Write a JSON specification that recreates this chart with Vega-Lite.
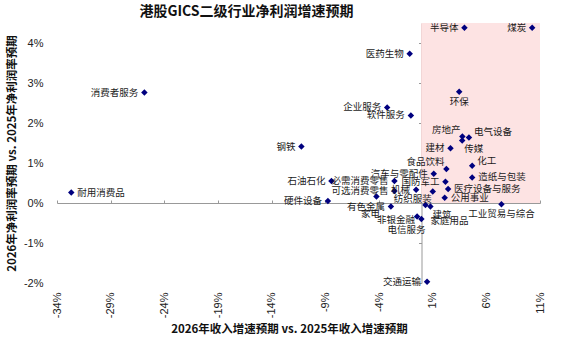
{
  "$schema": "https://vega.github.io/schema/vega-lite/v6.json",
  "autosize": "none",
  "width": 483,
  "height": 260,
  "padding": {"left": 57, "top": 23, "right": 32, "bottom": 61},
  "background": "white",
  "config": {"view": {"stroke": null}, "text": {"font": "Noto Sans CJK SC", "fontSize": 9.5, "color": "#1a1a1a"}},
  "title": {"text": "港股GICS二级行业净利润增速预期", "font": "Noto Sans CJK SC", "fontSize": 14, "fontWeight": "bold", "anchor": "middle", "dx": -52, "offset": 4, "color": "#111"},
  "data": {"values": [
    {"name": "半导体", "x": 3.96, "y": 4.38, "pos": "L"},
    {"name": "煤炭", "x": 10.27, "y": 4.38, "pos": "L"},
    {"name": "医药生物", "x": -1.14, "y": 3.73, "pos": "L"},
    {"name": "环保", "x": 3.47, "y": 2.78, "pos": "B"},
    {"name": "企业服务", "x": -3.24, "y": 2.39, "pos": "L"},
    {"name": "软件服务", "x": -1.03, "y": 2.19, "pos": "L"},
    {"name": "消费者服务", "x": -25.86, "y": 2.76, "pos": "L"},
    {"name": "钢铁", "x": -11.23, "y": 1.41, "pos": "L"},
    {"name": "耐用消费品", "x": -32.67, "y": 0.26, "pos": "R"},
    {"name": "硬件设备", "x": -8.76, "y": 0.05, "pos": "L"},
    {"name": "房地产", "x": 3.77, "y": 1.66, "pos": "AL"},
    {"name": "电气设备", "x": 4.38, "y": 1.64, "pos": "AR"},
    {"name": "传媒", "x": 3.75, "y": 1.56, "pos": "BR"},
    {"name": "建材", "x": 2.66, "y": 1.37, "pos": "L"},
    {"name": "化工", "x": 4.68, "y": 0.93, "pos": "AR"},
    {"name": "食品饮料", "x": 2.28, "y": 0.85, "pos": "AL"},
    {"name": "造纸与包装", "x": 4.68, "y": 0.64, "pos": "R"},
    {"name": "汽车与零配件", "x": 1.10, "y": 0.73, "pos": "L"},
    {"name": "国防军工", "x": 2.19, "y": 0.53, "pos": "L"},
    {"name": "医疗设备与服务", "x": 2.44, "y": 0.35, "pos": "R"},
    {"name": "公用事业", "x": 2.12, "y": 0.13, "pos": "R"},
    {"name": "工业贸易与综合", "x": 7.41, "y": -0.03, "pos": "B"},
    {"name": "机械", "x": -0.54, "y": 0.33, "pos": "L"},
    {"name": "纺织服装", "x": 1.01, "y": 0.29, "pos": "BL"},
    {"name": "石油石化", "x": -8.43, "y": 0.55, "pos": "L"},
    {"name": "必需消费零售", "x": -2.56, "y": 0.55, "pos": "L"},
    {"name": "可选消费零售", "x": -2.56, "y": 0.30, "pos": "L"},
    {"name": "有色金属", "x": -2.89, "y": -0.09, "pos": "L"},
    {"name": "家电", "x": -4.24, "y": 0.16, "pos": "BB"},
    {"name": "非银金融", "x": -0.45, "y": -0.34, "pos": "LB"},
    {"name": "电信服务", "x": -0.05, "y": -0.40, "pos": "BL2"},
    {"name": "家庭用品", "x": 0.33, "y": -0.05, "pos": "BR2"},
    {"name": "建筑", "x": 0.79, "y": -0.09, "pos": "BR"},
    {"name": "交通运输", "x": 0.48, "y": -1.97, "pos": "L"}
  ]},
  "resolve": {"axis": {"x": "independent", "y": "independent"}},
  "layer": [
    {
      "mark": {"type": "rect", "color": "#fde3e3"},
      "encoding": {
        "x": {"datum": 0, "type": "quantitative", "scale": {"domain": [-34, 11], "nice": false, "zero": false},
          "axis": {"orient": "bottom", "values": [-34, -29, -24, -19, -14, -9, -4, 1, 6, 11], "labelExpr": "datum.value + '%'", "labelAngle": -90, "labelAlign": "right", "labelBaseline": "middle", "labelPadding": 9, "labelFont": "Liberation Sans", "labelFontSize": 11, "labelColor": "#222", "domain": false, "ticks": false, "grid": false,
            "title": "2026年收入增速预期 vs. 2025年收入增速预期", "titleFont": "Noto Sans CJK SC", "titleFontSize": 11.5, "titleFontWeight": "bold", "titleColor": "#111", "titlePadding": 6, "titleX": 232}},
        "x2": {"datum": 11},
        "y": {"datum": 0, "type": "quantitative", "scale": {"domain": [-2, 4.5], "nice": false, "zero": false},
          "axis": {"orient": "left", "values": [-2, -1, 0, 1, 2, 3, 4], "labelExpr": "datum.value + '%'", "labelPadding": 14, "labelFont": "Liberation Sans", "labelFontSize": 11, "labelColor": "#222", "domain": false, "ticks": false, "grid": false,
            "title": "2026年净利润率预期 vs. 2025年净利润率预期", "titleFont": "Noto Sans CJK SC", "titleFontSize": 11.5, "titleFontWeight": "bold", "titleColor": "#111", "titlePadding": 6}},
        "y2": {"datum": 4.5}
      }
    },
    {
      "mark": {"type": "point", "shape": "diamond", "filled": true, "color": "#00007f", "size": 42, "opacity": 1},
      "encoding": {
        "x": {"field": "x", "type": "quantitative", "axis": {"orient": "top", "offset": -180, "values": [-34, -29, -24, -19, -14, -9, -4, 1, 6, 11], "labels": false, "title": null, "grid": false, "domainColor": "#999", "tickColor": "#999", "tickSize": 3, "domainWidth": 1}},
        "y": {"field": "y", "type": "quantitative", "axis": {"orient": "left", "offset": -364.5, "values": [-2, -1, 0, 1, 2, 3, 4], "labels": false, "title": null, "grid": false, "domainColor": "#999", "tickColor": "#999", "tickSize": 3, "domainWidth": 1}}
      }
    },
    {
      "transform": [{"filter": "datum.pos == 'L'"}],
      "mark": {"type": "text", "align": "right", "baseline": "middle", "dx": -6},
      "encoding": {"x": {"field": "x", "type": "quantitative", "axis": null}, "y": {"field": "y", "type": "quantitative", "axis": null}, "text": {"field": "name"}}
    },
    {
      "transform": [{"filter": "datum.pos == 'R'"}],
      "mark": {"type": "text", "align": "left", "baseline": "middle", "dx": 6},
      "encoding": {"x": {"field": "x", "type": "quantitative", "axis": null}, "y": {"field": "y", "type": "quantitative", "axis": null}, "text": {"field": "name"}}
    },
    {
      "transform": [{"filter": "datum.pos == 'B'"}],
      "mark": {"type": "text", "align": "center", "baseline": "top", "dy": 5},
      "encoding": {"x": {"field": "x", "type": "quantitative", "axis": null}, "y": {"field": "y", "type": "quantitative", "axis": null}, "text": {"field": "name"}}
    },
    {
      "transform": [{"filter": "datum.pos == 'BB'"}],
      "mark": {"type": "text", "align": "center", "baseline": "top", "dx": -6, "dy": 12},
      "encoding": {"x": {"field": "x", "type": "quantitative", "axis": null}, "y": {"field": "y", "type": "quantitative", "axis": null}, "text": {"field": "name"}}
    },
    {
      "transform": [{"filter": "datum.pos == 'BR'"}],
      "mark": {"type": "text", "align": "left", "baseline": "top", "dx": 2, "dy": 3},
      "encoding": {"x": {"field": "x", "type": "quantitative", "axis": null}, "y": {"field": "y", "type": "quantitative", "axis": null}, "text": {"field": "name"}}
    },
    {
      "transform": [{"filter": "datum.pos == 'BR2'"}],
      "mark": {"type": "text", "align": "left", "baseline": "top", "dx": 5, "dy": 11},
      "encoding": {"x": {"field": "x", "type": "quantitative", "axis": null}, "y": {"field": "y", "type": "quantitative", "axis": null}, "text": {"field": "name"}}
    },
    {
      "transform": [{"filter": "datum.pos == 'BL'"}],
      "mark": {"type": "text", "align": "right", "baseline": "top", "dx": -1, "dy": 3},
      "encoding": {"x": {"field": "x", "type": "quantitative", "axis": null}, "y": {"field": "y", "type": "quantitative", "axis": null}, "text": {"field": "name"}}
    },
    {
      "transform": [{"filter": "datum.pos == 'BL2'"}],
      "mark": {"type": "text", "align": "right", "baseline": "top", "dx": 4, "dy": 6},
      "encoding": {"x": {"field": "x", "type": "quantitative", "axis": null}, "y": {"field": "y", "type": "quantitative", "axis": null}, "text": {"field": "name"}}
    },
    {
      "transform": [{"filter": "datum.pos == 'LB'"}],
      "mark": {"type": "text", "align": "right", "baseline": "middle", "dx": -2, "dy": 3},
      "encoding": {"x": {"field": "x", "type": "quantitative", "axis": null}, "y": {"field": "y", "type": "quantitative", "axis": null}, "text": {"field": "name"}}
    },
    {
      "transform": [{"filter": "datum.pos == 'AL'"}],
      "mark": {"type": "text", "align": "right", "baseline": "bottom", "dx": -2, "dy": -2},
      "encoding": {"x": {"field": "x", "type": "quantitative", "axis": null}, "y": {"field": "y", "type": "quantitative", "axis": null}, "text": {"field": "name"}}
    },
    {
      "transform": [{"filter": "datum.pos == 'AR'"}],
      "mark": {"type": "text", "align": "left", "baseline": "middle", "dx": 5, "dy": -5},
      "encoding": {"x": {"field": "x", "type": "quantitative", "axis": null}, "y": {"field": "y", "type": "quantitative", "axis": null}, "text": {"field": "name"}}
    }
  ]
}
